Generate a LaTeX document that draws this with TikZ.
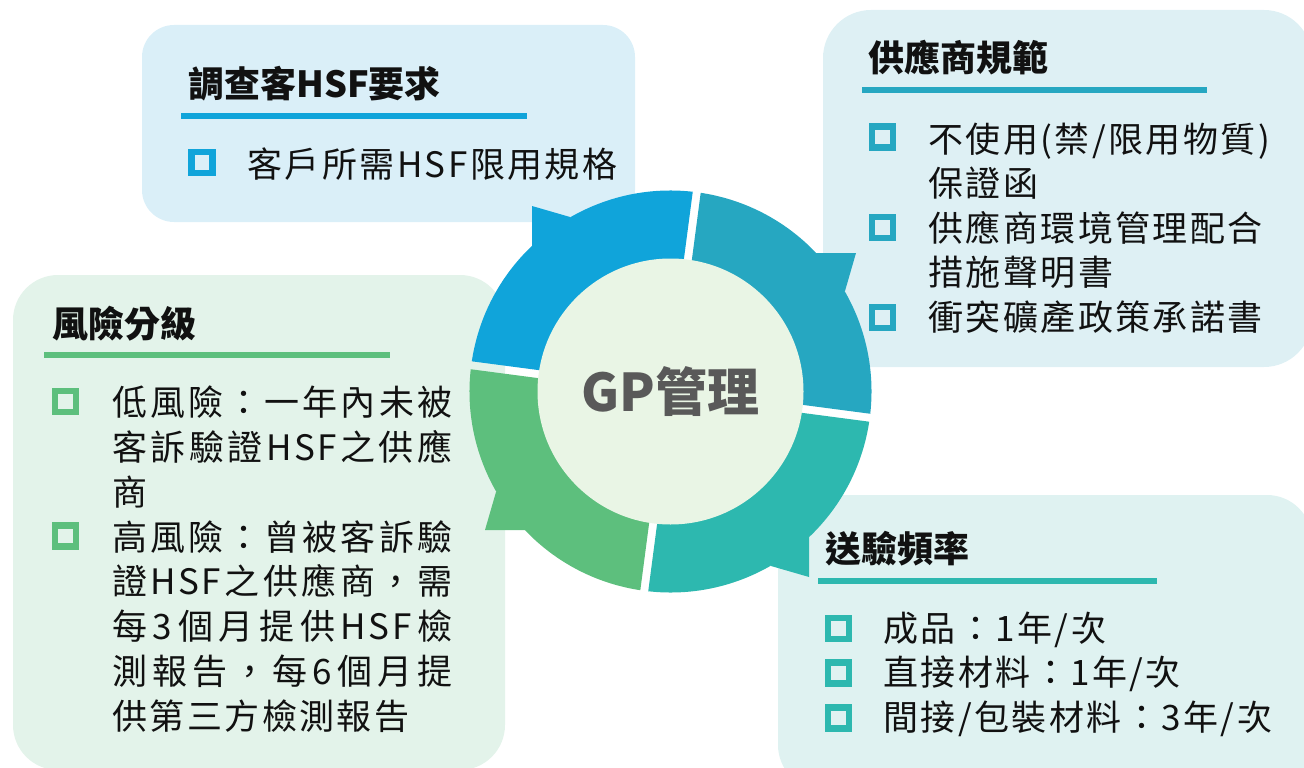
\documentclass[tikz,border=0pt]{standalone}
\usepackage{fontspec}
\setmainfont{Noto Sans CJK TC}
\newfontfamily\bodyfont{Noto Sans CJK TC}[LetterSpace=7]
\usetikzlibrary{calc}
\definecolor{cBlue}{HTML}{10A4DA}
\definecolor{cTealBlue}{HTML}{26A7C1}
\definecolor{cTeal}{HTML}{2DB8AF}
\definecolor{cGreen}{HTML}{5DBF7D}
\definecolor{cInner}{HTML}{E9F5E5}
\definecolor{boxTL}{HTML}{DAEFF8}
\definecolor{boxTR}{HTML}{DEF0F4}
\definecolor{boxL}{HTML}{E3F3EA}
\definecolor{boxBR}{HTML}{DFF2F1}
\definecolor{txt}{HTML}{111111}
\definecolor{gptxt}{HTML}{595959}
\let\spreadstop\relax
\def\spreadstopmac{\spreadstop}
\newcommand\spreadlist[1]{\spreadfirst#1\spreadstop}
\newcommand\spreadfirst[1]{#1\spreadnext}
\newcommand\spreadnext[1]{\def\spreadtmp{#1}\ifx\spreadtmp\spreadstopmac\else\hfill#1\expandafter\spreadnext\fi}
\newcommand\spreadbox[1]{\makebox[340pt][s]{\spreadlist{#1}}}
\begin{document}
\begin{tikzpicture}[x=1pt,y=-1pt,
  body/.style={font=\bodyfont\fontsize{35}{44}\selectfont, text=txt, inner sep=0pt, anchor=base west},
  title/.style={font=\bfseries\fontsize{36}{44}\selectfont, text=txt, inner sep=0pt, anchor=base west},
  bullet/.style={draw=#1, line width=6.3pt, rectangle, minimum size=21pt, inner sep=0pt},
  uline/.style={line width=6pt, draw=#1},
  gptext/.style={font=\bfseries\fontsize{52}{60}\selectfont, text=gptxt, inner sep=0pt}]
\useasboundingbox (0,0) rectangle (1304,768);
\clip (0,0) rectangle (1304,768);
% boxes
\fill[boxTL, rounded corners=32pt] (142,25) rectangle (635,222);
\fill[boxTR, rounded corners=48pt] (823,10) rectangle (1312,367);
\fill[boxL, rounded corners=45pt] (13,275) rectangle (505,770);
\fill[boxBR, rounded corners=45pt] (778,495) rectangle (1312,790);
% underlines
\draw[uline=cBlue] (181,116) -- (527,116);
\draw[uline=cTealBlue] (862,90) -- (1207,90);
\draw[uline=cGreen] (44,354.5) -- (390,354.5);
\draw[uline=cTeal] (818,580.7) -- (1157,580.7);
% bullets
\node[bullet=cBlue] (tlb1) at (202,162.5) {};
\node[bullet=cTealBlue] (trb1) at (882.5,137) {};
\node[bullet=cTealBlue] (trb2) at (882.5,227.5) {};
\node[bullet=cTealBlue] (trb3) at (882.5,317.5) {};
\node[bullet=cGreen] (lb1) at (65.5,401.5) {};
\node[bullet=cGreen] (lb2) at (65.5,536) {};
\node[bullet=cTeal] (brb1) at (838.3,628.3) {};
\node[bullet=cTeal] (brb2) at (838.3,673) {};
\node[bullet=cTeal] (brb3) at (838.3,718) {};
% texts: top-left
\node[title] (tlT) at (188,98) {調查客HSF要求};
\node[body] (tl1) at (247,177) {客戶所需HSF限用規格};
% top-right
\node[title] (trT) at (868,71) {供應商規範};
\node[body] (tr1) at (928,152) {不使用(禁/限用物質)};
\node[body] (tr2) at (928,196.5) {保證函};
\node[body] (tr3) at (928,241) {供應商環境管理配合};
\node[body] (tr4) at (928,285.5) {措施聲明書};
\node[body] (tr5) at (928,330) {衝突礦產政策承諾書};
% left
\node[title] (lT) at (52,337) {風險分級};
\node[body] (l1) at (112,415) {\spreadbox{低風險：一年內未被}};
\node[body] (l2) at (112,460) {\spreadbox{客訴驗證{HSF}之供應}};
\node[body] (l3) at (112,505) {商};
\node[body] (l4) at (112,550) {\spreadbox{高風險：曾被客訴驗}};
\node[body] (l5) at (112,594.5) {\spreadbox{證{HSF}之供應商，需}};
\node[body] (l6) at (112,639) {\spreadbox{每3個月提供{HSF}檢}};
\node[body] (l7) at (112,684) {\spreadbox{測報告，每6個月提}};
\node[body] (l8) at (112,729) {供第三方檢測報告};
% bottom-right
\node[title] (brT) at (825,562) {送驗頻率};
\node[body] (br1) at (883,641) {成品：1年/次};
\node[body] (br2) at (883,685) {直接材料：1年/次};
\node[body] (br3) at (883,730) {間接/包裝材料：3年/次};
% wheel
\begin{scope}[shift={(670.5,391.5)}, yscale=-1]
  \foreach \rot/\col in {0/cBlue, 90/cTealBlue, 180/cTeal, -90/cGreen} {
    \begin{scope}[rotate=\rot]
      \clip (172.5:4) -- ($(172.5:4)+(82.5:320)$) -- (127.5:450) -- ($(82.5:4)+(172.5:320)$) -- (82.5:4) -- cycle;
      \fill[\col] (0,0) -- (82.5:201) arc[start angle=82.5, end angle=172.5, radius=201] -- cycle;
      \fill[\col] (-138.5,145.5) -- (-138.5,185.5) -- (-100.5,174.5) -- (125:185) -- cycle;
    \end{scope}
  }
  \fill[cInner] (0,0) circle[radius=133];
  \node[gptext] (gp) at (0,0) {GP管理};
\end{scope}
\end{tikzpicture}
\end{document}
